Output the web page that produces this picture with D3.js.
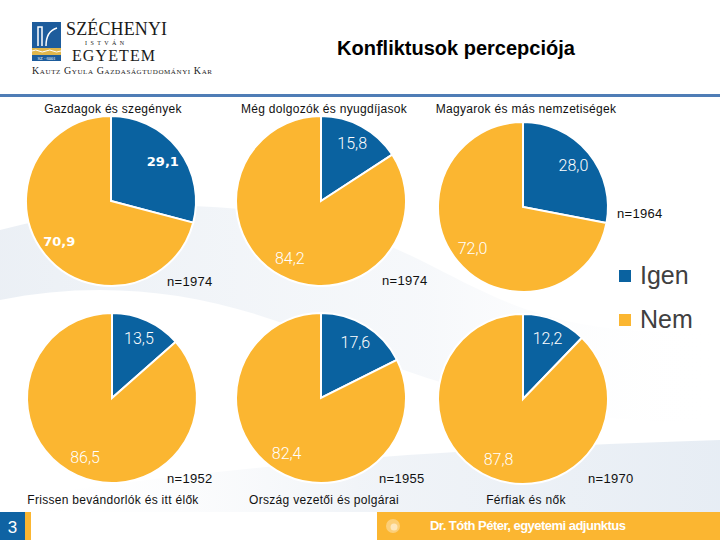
<!DOCTYPE html>
<html><head><meta charset="utf-8">
<script src="https://cdn.jsdelivr.net/npm/d3@7"></script>
<style>body{margin:0;background:#fff}svg{display:block}</style>
</head><body>
<script>
// ---- data ----
const pieTitles = ["Gazdagok és szegények","Még dolgozók és nyugdíjasok","Magyarok és más nemzetiségek","Frissen bevándorlók és itt élők","Ország vezetői és polgárai","Férfiak és nők"];
const igenValues = [29.1, 15.8, 28.0, 13.5, 17.6, 12.2];
const nemValues  = [70.9, 84.2, 72.0, 86.5, 82.4, 87.8];
const nLabels = ["n=1974","n=1974","n=1964","n=1952","n=1955","n=1970"];
const legendLabels = ["Igen","Nem"];
const chartTitle = "Konfliktusok percepciója";
const footerText = "Dr. Tóth Péter, egyetemi adjunktus";
const pageNumber = "3";

// ---- layout ----
const W = 720, H = 540;
const colors = ["#0a62a0", "#fbb631"];
const centers = [[111,201],[321,201],[523,207],[112,398],[321,398],[523,399]];
const R = 85;
const titlePos = [[113,113],[324,113],[526,113],[113,504],[324,504],[526,504]];
const nPos = [[167,286],[382,285],[617,218],[167,483],[379,483],[588,483]];

const svg = d3.select("body").append("svg").attr("width", W).attr("height", H);

// background swooshes
const defs = svg.append("defs");
const g1 = defs.append("linearGradient").attr("id","sw1").attr("x1","0").attr("x2","1").attr("y1","0").attr("y2","0");
g1.append("stop").attr("offset","0").attr("stop-color","#e9eef4").attr("stop-opacity",0.9);
g1.append("stop").attr("offset","0.6").attr("stop-color","#eef2f7").attr("stop-opacity",0.5);
g1.append("stop").attr("offset","1").attr("stop-color","#ffffff").attr("stop-opacity",0);
svg.append("path").attr("d","M0,230 C150,190 300,200 420,260 C500,300 560,340 720,330 L720,420 C560,430 420,380 300,330 C200,290 100,280 0,300 Z").attr("fill","url(#sw1)");
const g2 = defs.append("linearGradient").attr("id","sw2").attr("x1","0").attr("x2","1").attr("y1","0").attr("y2","0");
g2.append("stop").attr("offset","0").attr("stop-color","#ffffff").attr("stop-opacity",0);
g2.append("stop").attr("offset","0.5").attr("stop-color","#edf1f6").attr("stop-opacity",0.8);
g2.append("stop").attr("offset","1").attr("stop-color","#e4ebf3").attr("stop-opacity",0.9);
svg.append("path").attr("d","M0,500 C200,470 400,450 720,440 L720,512 L0,512 Z").attr("fill","url(#sw2)");

// logo
const logo = svg.append("g");
logo.append("rect").attr("x",32).attr("y",22).attr("width",29).attr("height",26).attr("fill","#1d5c9c");
logo.append("path").attr("d","M38,46 L38,27 L42,27 L42,46 M46,46 C46,36 50,30 57,28").attr("stroke","#fff").attr("stroke-width",1.5).attr("fill","none");
logo.append("rect").attr("x",32).attr("y",48).attr("width",29).attr("height",7).attr("fill","#e0b64c");
logo.append("path").attr("d","M32,51 q4,-2 7,0 t7,0 t7,0 t8,0").attr("stroke","#fff").attr("stroke-width",1).attr("fill","none");
logo.append("rect").attr("x",32).attr("y",55).attr("width",29).attr("height",6).attr("fill","#1d5c9c");
logo.append("text").attr("x",46.5).attr("y",60).attr("text-anchor","middle").attr("font-size",4.5).attr("fill","#fff").attr("font-family","Liberation Serif").text("SZ · 6001");
logo.append("text").attr("x",66).attr("y",35).attr("font-family","Liberation Serif, DejaVu Serif, serif").attr("font-size",18).attr("fill","#1a1a1a").attr("textLength",101).text("SZÉCHENYI");
logo.append("text").attr("x",85).attr("y",44.5).attr("font-family","Liberation Serif, serif").attr("font-size",6).attr("fill","#1a1a1a").attr("textLength",39).text("ISTVÁN");
logo.append("text").attr("x",72).attr("y",61).attr("font-family","Liberation Serif, DejaVu Serif, serif").attr("font-size",16).attr("fill","#1a1a1a").attr("textLength",83).text("EGYETEM");
logo.append("text").attr("x",32).attr("y",74).attr("font-family","Liberation Serif, serif").attr("font-size",10).attr("font-variant","small-caps").attr("fill","#1a1a1a").attr("textLength",180).text("Kautz Gyula Gazdaságtudományi Kar");

// title
svg.append("text").attr("x",456).attr("y",55).attr("text-anchor","middle")
  .attr("font-family","Liberation Sans, Arial, sans-serif").attr("font-weight","bold").attr("font-size",20).attr("fill","#000").text(chartTitle);

// top rule
svg.append("rect").attr("x",0).attr("y",94).attr("width",W).attr("height",3).attr("fill","#4f7db6");

// pies
const pie = d3.pie().sort(null).value(d => d);
const arc = d3.arc().innerRadius(0).outerRadius(R);
const labelArc = d3.arc().innerRadius(R*0.77).outerRadius(R*0.77);
const fmt = d3.formatLocale({decimal: ",", thousands: ".", grouping: [3], currency: ["", ""]}).format(".1f");

pieTitles.forEach((t, i) => {
  const vals = [igenValues[i], nemValues[i]];
  const g = svg.append("g").attr("transform", `translate(${centers[i][0]},${centers[i][1]})`);
  const arcs = pie(vals);
  g.selectAll("path").data(arcs).join("path")
    .attr("d", arc).attr("fill", (d, j) => colors[j])
    .attr("stroke", "#fff").attr("stroke-width", 2).attr("stroke-linejoin","miter");
  g.selectAll("text").data(arcs).join("text")
    .attr("transform", d => `translate(${labelArc.centroid(d)})`)
    .attr("text-anchor","middle").attr("dy","0.36em")
    .attr("fill","#fff")
    .attr("font-family", i === 0 ? "DejaVu Sans, Verdana, sans-serif" : "Roboto, Liberation Sans, Arial, sans-serif")
    .attr("font-weight", i === 0 ? "bold" : 300)
    .attr("font-size", i === 0 ? 13 : 16)
    .text(d => fmt(d.data));
  svg.append("text").attr("x", titlePos[i][0]).attr("y", titlePos[i][1]).attr("text-anchor","middle")
    .attr("font-family","Liberation Sans, Arial, sans-serif").attr("font-size",12).attr("letter-spacing",0.3).attr("fill","#111").text(t);
  svg.append("text").attr("x", nPos[i][0]).attr("y", nPos[i][1])
    .attr("font-family","Liberation Sans, Arial, sans-serif").attr("font-size",13).attr("letter-spacing",0.3).attr("fill","#111").text(nLabels[i]);
});

// legend
const legY = [270, 314];
legendLabels.forEach((l, i) => {
  svg.append("rect").attr("x",619).attr("y",legY[i]).attr("width",12).attr("height",12).attr("fill",colors[i]);
  svg.append("text").attr("x",640).attr("y",legY[i]+14).attr("font-family","Liberation Sans, Arial, sans-serif")
    .attr("font-size",25).attr("fill","#404040").text(l);
});

// footer
svg.append("rect").attr("x",0).attr("y",512).attr("width",25).attr("height",28).attr("fill","#0f63a3");
svg.append("rect").attr("x",25).attr("y",512).attr("width",6).attr("height",28).attr("fill","#fbb631");
svg.append("text").attr("x",12.5).attr("y",533).attr("text-anchor","middle").attr("font-family","Liberation Sans, Arial, sans-serif").attr("font-size",17).attr("fill","#fff").text(pageNumber);
svg.append("rect").attr("x",377).attr("y",512).attr("width",W-377).attr("height",28).attr("fill","#fbb631");
svg.append("circle").attr("cx",393).attr("cy",526).attr("r",7).attr("fill","#fff").attr("opacity",0.35);
svg.append("circle").attr("cx",394).attr("cy",527).attr("r",3.5).attr("fill","#fff").attr("opacity",0.5);
svg.append("text").attr("x",430).attr("y",530).attr("font-family","Liberation Sans Narrow, Arial Narrow, Liberation Sans, sans-serif")
  .attr("font-weight","bold").attr("font-size",13).attr("fill","#fff").attr("textLength",196).text(footerText);
</script>
</body></html>
